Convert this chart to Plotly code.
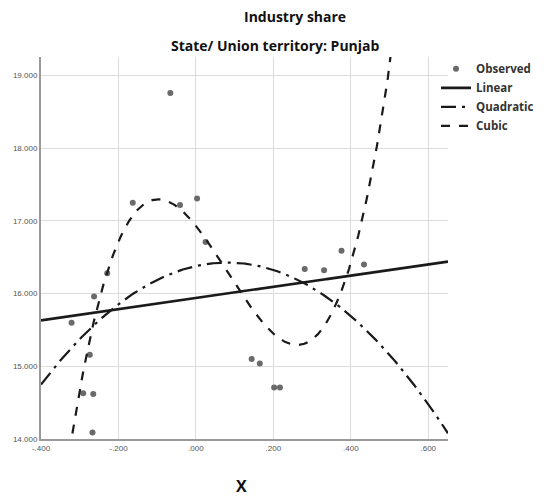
import numpy as np
import plotly.graph_objects as go

# Observed values (centred X, industry share in %)
x_obs = [-0.321, -0.291, -0.274, -0.267, -0.265, -0.263, -0.229, -0.163, -0.066, -0.041,
         0.003, 0.025, 0.144, 0.165, 0.202, 0.217, 0.281, 0.331, 0.376, 0.434]
y_obs = [15.60, 14.63, 15.16, 14.09, 14.62, 15.96, 16.28, 17.25, 18.76, 17.22,
         17.31, 16.71, 15.10, 15.04, 14.71, 14.71, 16.34, 16.32, 16.59, 16.40]

x_ticks = [-0.4, -0.2, 0.0, 0.2, 0.4, 0.6]
x_tick_text = ["-.400", "-.200", ".000", ".200", ".400", ".600"]
y_ticks = [14, 15, 16, 17, 18, 19]
y_tick_text = ["14.000", "15.000", "16.000", "17.000", "18.000", "19.000"]

x_range = [-0.4, 0.651]
y_range = [14.0, 19.255]

# Regression curves fitted to the observed points
xs = np.array(x_obs)
ys = np.array(y_obs)
grid = np.linspace(x_range[0], x_range[1], 400)
fits = {}
for name, deg in [("Linear", 1), ("Quadratic", 2), ("Cubic", 3)]:
    coef = np.polyfit(xs, ys, deg)
    fits[name] = np.polyval(coef, grid)

fig = go.Figure()
fig.add_trace(go.Scatter(
    x=x_obs, y=y_obs, mode="markers", name="Observed",
    marker=dict(color="#6a6a6a", size=6, symbol="circle"),
    cliponaxis=True,
))
styles = {"Linear": "solid", "Quadratic": "longdashdot", "Cubic": "dash"}
widths = {"Linear": 2.6, "Quadratic": 2.2, "Cubic": 2.2}
for name in ["Linear", "Quadratic", "Cubic"]:
    fig.add_trace(go.Scatter(
        x=grid, y=fits[name], mode="lines", name=name,
        line=dict(color="#1a1a1a", width=widths[name], dash=styles[name]),
    ))

fig.update_layout(
    width=544, height=497,
    margin=dict(l=41, r=96, t=57, b=58, autoexpand=False),
    paper_bgcolor="white", plot_bgcolor="white",
    font=dict(family="Open Sans, sans-serif", color="#222"),
    showlegend=True,
    legend=dict(
        x=(436 - 41) / 407, y=1.007, xanchor="left", yanchor="top",
        font=dict(family="Open Sans, sans-serif", size=11.5, color="#333", weight="bold"),
        itemwidth=30, tracegroupgap=0, bgcolor="rgba(0,0,0,0)",
    ),
    annotations=[
        dict(text="<b>Industry share</b>", xref="paper", yref="paper",
             x=(295 - 41) / 407, y=(439 - 16) / 382, xanchor="center", yanchor="middle",
             showarrow=False, font=dict(size=14, color="#111")),
        dict(text="<b>State/ Union territory: Punjab</b>", xref="paper", yref="paper",
             x=(275 - 41) / 407, y=(439 - 45) / 382, xanchor="center", yanchor="middle",
             showarrow=False, font=dict(size=14, color="#111")),
        dict(text="<b>X</b>", xref="paper", yref="paper",
             x=(241 - 41) / 407, y=-(486 - 439) / 382, xanchor="center", yanchor="middle",
             showarrow=False, font=dict(size=16, color="#111")),
    ],
)
fig.update_xaxes(
    range=x_range, tickvals=x_ticks, ticktext=x_tick_text,
    showgrid=True, gridcolor="#dcdcdc", gridwidth=1.2,
    showline=True, linecolor="#9a9a9a", linewidth=2,
    zeroline=False, ticks="",
    tickfont=dict(family="Liberation Sans Narrow, Liberation Sans, sans-serif", size=8, color="#555"),
)
fig.update_yaxes(
    range=y_range, tickvals=y_ticks, ticktext=y_tick_text,
    showgrid=True, gridcolor="#dcdcdc", gridwidth=1.2,
    showline=True, linecolor="#9a9a9a", linewidth=2,
    zeroline=False, ticks="",
    tickfont=dict(family="Liberation Sans Narrow, Liberation Sans, sans-serif", size=8, color="#555"),
)

fig.write_html("out.html")
